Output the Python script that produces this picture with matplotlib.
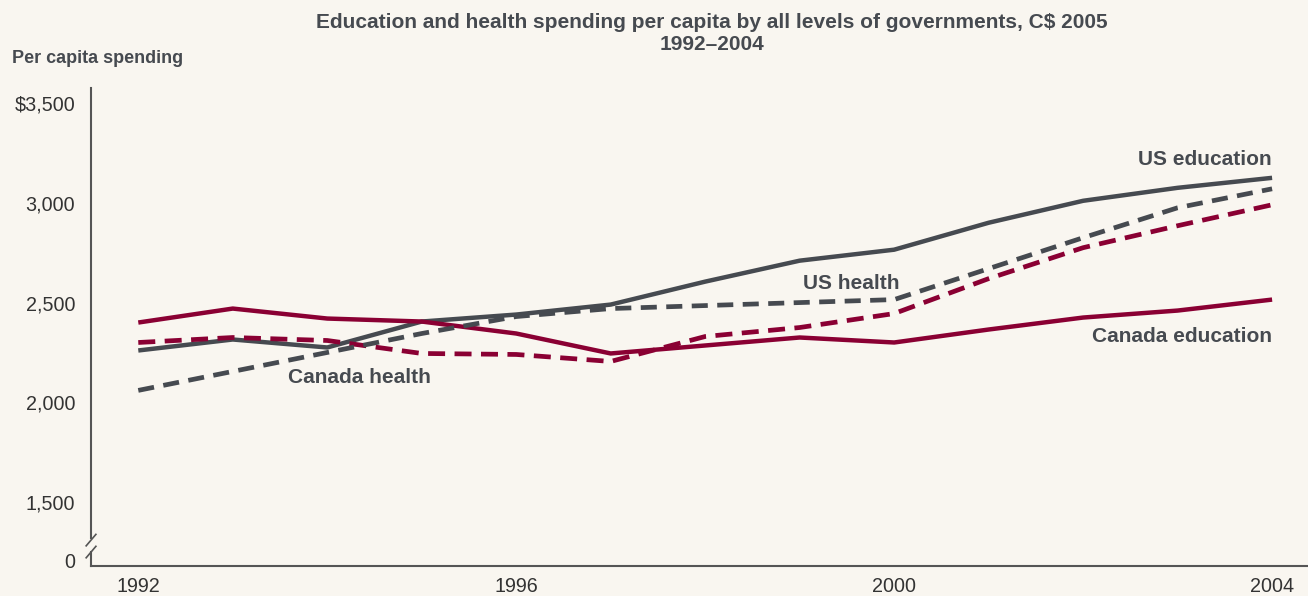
import numpy as np
import matplotlib as mpl
import matplotlib.pyplot as plt

mpl.rcParams['font.family'] = ['Liberation Sans', 'DejaVu Sans']

years = list(range(1992, 2005))
us_education = [2260, 2315, 2275, 2405, 2440, 2490, 2605, 2710, 2765, 2900, 3010, 3075, 3125]
us_health = [2060, 2155, 2250, 2345, 2430, 2470, 2485, 2500, 2515, 2670, 2825, 2975, 3070]
canada_education = [2400, 2470, 2420, 2405, 2345, 2245, 2285, 2325, 2300, 2365, 2425, 2460, 2515]
canada_health = [2300, 2325, 2310, 2245, 2240, 2205, 2330, 2375, 2445, 2620, 2775, 2885, 2990]

y_ticks = [0, 1500, 2000, 2500, 3000, 3500]
y_tick_labels = ['0', '1,500', '2,000', '2,500', '3,000', '$3,500']
x_ticks = [1992, 1996, 2000, 2004]

GRAY = '#464a50'
RED = '#8a0033'
BG = '#f9f6f0'

# broken axis: below 1,500 the scale is squeezed so 0 still shows
SQUEEZE = 290 / 1500


def fwd(v):
    v = np.asarray(v, dtype=float)
    return np.where(v >= 1500, v, 1500 - (1500 - v) * SQUEEZE)


def inv(v):
    v = np.asarray(v, dtype=float)
    return np.where(v >= 1500, v, 1500 - (1500 - v) / SQUEEZE)


fig = plt.figure(figsize=(13.08, 5.96), dpi=100, facecolor=BG)
ax = fig.add_axes([0.0696, 0.0503, 0.9304, 0.802])
ax.set_facecolor(BG)
ax.set_yscale('function', functions=(fwd, inv))

ax.plot(years, us_education, color=GRAY, lw=3.2, solid_capstyle='butt')
ax.plot(years, canada_education, color=RED, lw=3.2, solid_capstyle='butt')
ax.plot(years, canada_health, color=RED, lw=3.4, dashes=(3.6, 2), dash_capstyle='butt')
ax.plot(years, us_health, color=GRAY, lw=3.4, dashes=(3.4, 2), dash_capstyle='butt')

ax.set_xlim(1991.5, 2004.38)
ax.set_ylim(float(inv(1180)), 3575)

ax.set_yticks(y_ticks)
ax.set_yticklabels(y_tick_labels)
ax.set_xticks(x_ticks)
ax.minorticks_off()
ax.tick_params(axis='both', length=0, labelsize=14.2, labelcolor='#333333')
ax.tick_params(axis='y', pad=11.5)
ax.tick_params(axis='x', pad=8)

for s in ['top', 'right', 'left']:
    ax.spines[s].set_visible(False)
ax.spines['bottom'].set_color('#555555')
ax.spines['bottom'].set_linewidth(1.5)

# left axis in two pieces with a break mark
ylo, yhi = ax.get_ylim()
span = fwd(yhi) - fwd(ylo)
brk_lo = (fwd(inv(1250)) - fwd(ylo)) / span
brk_hi = (fwd(inv(1320)) - fwd(ylo)) / span
ax.axvline(1991.5, ymin=0, ymax=float(brk_lo), color='#555555', lw=1.5, clip_on=False)
ax.axvline(1991.5, ymin=float(brk_hi), ymax=1, color='#555555', lw=1.5, clip_on=False)
for off in [0, 0.025]:
    ax.plot([-0.004, 0.004], [float(brk_lo) - 0.012 + off, float(brk_lo) + 0.012 + off],
            transform=ax.transAxes, color='#555555', lw=1.2, clip_on=False)

lab = dict(color=GRAY, fontsize=15, fontweight='bold')
ax.text(2004, 3215, 'US education', ha='right', va='center', **lab)
ax.text(1999.55, 2595, 'US health', ha='center', va='center', **lab)
ax.text(2004, 2330, 'Canada education', ha='right', va='center', **lab)
ax.text(1994.34, 2125, 'Canada health', ha='center', va='center', **lab)

fig.text(0.544, 0.962, 'Education and health spending per capita by all levels of governments, C$ 2005',
         ha='center', va='center', color=GRAY, fontsize=15, fontweight='bold')
fig.text(0.544, 0.925, '1992\u20132004', ha='center', va='center', color=GRAY,
         fontsize=15, fontweight='bold')
fig.text(0.009, 0.902, 'Per capita spending', ha='left', va='center', color=GRAY,
         fontsize=13, fontweight='bold')

fig.savefig('out.png', dpi=100, facecolor=BG)
